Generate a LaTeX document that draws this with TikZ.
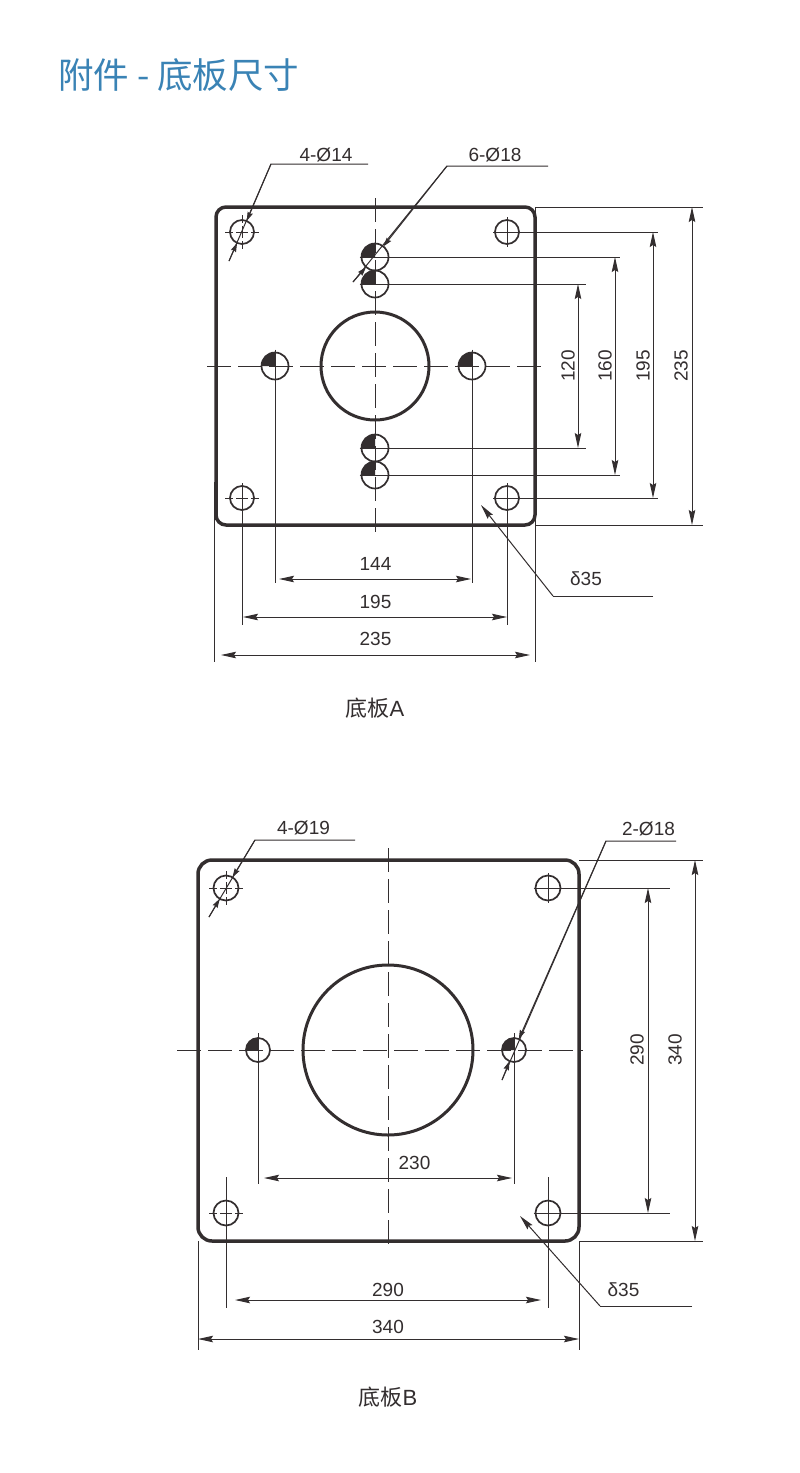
\documentclass[tikz,border=0pt]{standalone}
\usepackage{fontspec}
\setmainfont{Liberation Sans}
\newfontfamily\cjk{Noto Sans CJK SC}
\usetikzlibrary{arrows.meta}
\definecolor{ink}{HTML}{332E2F}
\definecolor{titleblue}{HTML}{3A83B5}
\def \MinSize {27}
\tikzstyle{plate}=[draw=ink, rectangle, line width=3.5pt, inner sep=0pt, outer sep=0pt]
\tikzstyle{hole}=[draw=ink, circle, line width=1.7pt, inner sep=0pt, outer sep=0pt, minimum size=\MinSize]
\tikzstyle{thin line}=[draw=ink, line width=1pt]
\tikzstyle{centre line}=[thin line, dash pattern=on 24pt off 7pt]
\tikzstyle{cross line}=[thin line, dash pattern=on 8pt off 3pt on 12pt off 3pt on 8pt off 3pt]
\tikzstyle{dim}=[thin line, {Stealth[length=15pt,width=6.5pt,inset=2pt]}-{Stealth[length=15pt,width=6.5pt,inset=2pt]}]
\tikzstyle{pointer}=[thin line, -{Stealth[length=15pt,width=6.5pt,inset=2pt]}]
\tikzstyle{stub}=[thin line, -{Stealth[length=9pt,width=5.5pt,inset=1pt]}]
\tikzstyle{value}=[text=ink, font=\fontsize{19}{21}\selectfont, inner sep=0pt]
\tikzstyle{caption}=[text=ink, font=\fontsize{22}{24}\cjk, inner sep=0pt]
\begin{document}
\begin{tikzpicture}[x=1pt,y=-1pt]
  \path[use as bounding box, fill=white] (0,0) rectangle (800,1473);
  \node[anchor=west, text=titleblue, inner sep=0pt, font=\fontsize{35.5}{38}\cjk] (title) at (58,75) {附件 - 底板尺寸};

  % plate A
  \node[plate, rounded corners=10pt, minimum width=319, minimum height=318] (pa) at (375.5,366) {};
  \node[hole, minimum size=108, line width=3pt] (ca) at (375,366) {};
  \foreach \n/\x/\y in {1/242/232, 2/507/232, 3/242/498, 4/507/498}{
    \node[hole, minimum size=24] (a\n) at (\x,\y) {};
  }
  \foreach \n/\x/\y in {5/375/257, 6/375/284, 7/375/448, 8/375/475, 9/275/366, 10/472/366}{
    \node[hole] (a\n) at (\x,\y) {};
    \fill[ink] (a\n.center) -- (a\n.west) arc[start angle=180, end angle=90, radius=13.5pt] -- cycle;
  }
  \draw[centre line] (207,366) coordinate (al) -- (543,366) coordinate (ar);
  \draw[centre line] (375,198) coordinate (at) -- (375,535) coordinate (ab);
  \draw[cross line] (225,232) -- (259,232);
  \draw[cross line] (242,215) -- (242,249);
  \draw[cross line] (225,498) -- (259,498);
  \draw[thin line] (507,217) -- (507,247);

  % plate A, right dimensions
  \foreach \n/\x/\y in {e1/703/207, e2/658/232, e3/620/257, e4/586/284, e5/586/448, e6/620/475, e7/658/498, e8/703/525,
                        d1/578/0, d2/615/0, d3/653/0, d4/692/0}{
    \coordinate (\n) at (\x,\y);
  }
  \draw[thin line] (pa.north east) -- (e1);
  \draw[thin line] ([xshift=-2pt]a2.west) -- (e2);
  \draw[thin line] ([xshift=-2pt]a5.west) -- (e3);
  \draw[thin line] ([xshift=-2pt]a6.west) -- (e4);
  \draw[thin line] ([xshift=-2pt]a7.west) -- (e5);
  \draw[thin line] ([xshift=-2pt]a8.west) -- (e6);
  \draw[thin line] ([xshift=-2pt]a4.west) -- (e7);
  \draw[thin line] (pa.south east) -- (e8);
  \draw[dim] (e4 -| d1) -- (e5 -| d1);
  \draw[dim] (e3 -| d2) -- (e6 -| d2);
  \draw[dim] (e2 -| d3) -- (e7 -| d3);
  \draw[dim] (e1 -| d4) -- (e8 -| d4);
  \node[value, rotate=90] (va1) at (568,366) {120};
  \node[value, rotate=90] (va2) at (605,366) {160};
  \node[value, rotate=90] (va3) at (643,366) {195};
  \node[value, rotate=90] (va4) at (681,366) {235};

  % plate A, bottom dimensions
  \foreach \n/\x/\y in {f1/275/583, f2/472/583, f3/242/625, f4/507/625, f5/214/662, f6/535/662, g1/214/482, g2/535/207}{
    \coordinate (\n) at (\x,\y);
  }
  \draw[thin line] ([yshift=3pt]a9.north) -- (f1);
  \draw[thin line] ([yshift=3pt]a10.north) -- (f2);
  \draw[thin line] ([yshift=3pt]a3.north) -- (f3);
  \draw[thin line] ([yshift=3pt]a4.north) -- (f4);
  \draw[thin line] (g1) -- (f5);
  \draw[thin line] (g2) -- (f6);
  \draw[dim] (279,579) -- (471,579);
  \node[value] (vb1) at (375.5,564) {144};
  \draw[dim] (243,617) -- (507,617);
  \node[value] (vb2) at (375.5,602) {195};
  \draw[dim] (221,655) -- (530,655);
  \node[value] (vb3) at (375.5,639) {235};

  % plate A, leaders
  \coordinate (k1) at (368,164);
  \coordinate (k2) at (271,164);
  \coordinate (k3) at (229,261);
  \draw[thin line] (k1) -- (k2) -- (k3);
  \draw[stub] (k2) -- (a1);
  \draw[stub] (k3) -- (a1);
  \node[value] (la1) at (326,155) {4-Ø14};
  \coordinate (k4) at (548,166);
  \coordinate (k5) at (447,166);
  \coordinate (k6) at (353,282);
  \draw[thin line] (k4) -- (k5) -- (k6);
  \draw[stub] (k5) -- (a5);
  \draw[stub] (k6) -- (a5);
  \node[value] (la2) at (495,155) {6-Ø18};
  \coordinate (k7) at (653,596);
  \coordinate (k8) at (553,596);
  \coordinate (k9) at (481,505);
  \draw[thin line] (k7) -- (k8);
  \draw[pointer] (k8) -- (k9);
  \node[value] (la3) at (586,579) {δ35};
  \node[caption] (capa) at (375,708) {底板{\fontspec{Liberation Sans}A}};

  % plate B
  \node[plate, rounded corners=14pt, minimum width=381, minimum height=381] (pb) at (388.5,1050.5) {};
  \node[hole, minimum size=170, line width=3pt] (cb) at (388,1050) {};
  \foreach \n/\x/\y in {1/226/888, 2/548/888, 3/226/1213, 4/548/1213}{
    \node[hole, minimum size=25] (b\n) at (\x,\y) {};
  }
  \foreach \n/\x/\y in {5/258/1050, 6/514/1050}{
    \node[hole, minimum size=24] (b\n) at (\x,\y) {};
    \fill[ink] (b\n.center) -- (b\n.west) arc[start angle=180, end angle=90, radius=12pt] -- cycle;
  }
  \draw[centre line] (177,1050) coordinate (bl) -- (583,1050) coordinate (br);
  \draw[centre line] (388,848) coordinate (bt) -- (388,1248) coordinate (bb);
  \draw[cross line] (209,888) -- (243,888);
  \draw[cross line] (226,871) -- (226,905);
  \draw[cross line] (209,1213) -- (243,1213);
  \draw[thin line] (548,873) -- (548,903);

  % plate B, right dimensions
  \foreach \n/\x/\y in {p1/703/860, p2/670/888, p3/670/1213, p4/703/1241, q1/648/0, q2/695/0}{
    \coordinate (\n) at (\x,\y);
  }
  \draw[thin line] (pb.north east) -- (p1);
  \draw[thin line] ([xshift=-2pt]b2.west) -- (p2);
  \draw[thin line] ([xshift=-2pt]b4.west) -- (p3);
  \draw[thin line] (pb.south east) -- (p4);
  \draw[dim] (p2 -| q1) -- (p3 -| q1);
  \draw[dim] (p1 -| q2) -- (p4 -| q2);
  \node[value, rotate=90] (vc1) at (637,1050) {290};
  \node[value, rotate=90] (vc2) at (675,1050) {340};

  % plate B, bottom dimensions
  \foreach \n/\x/\y in {r1/258/1184, r2/514/1184, r3/226/1308, r4/548/1308, r5/198/1350, r6/579/1350, s1/226/1177, s2/548/1177}{
    \coordinate (\n) at (\x,\y);
  }
  \draw[thin line] ([yshift=5pt]b5.north) -- (r1);
  \draw[thin line] ([yshift=5pt]b6.north) -- (r2);
  \draw[thin line] (s1) -- (r3);
  \draw[thin line] (s2) -- (r4);
  \draw[thin line] (pb.south west) -- (r5);
  \draw[thin line] (pb.south east) -- (r6);
  \draw[dim] (264,1178) -- (512,1178);
  \node[value] (vd1) at (414.5,1163) {230};
  \draw[dim] (235,1300) -- (541,1300);
  \node[value] (vd2) at (388,1290) {290};
  \draw[dim] (198,1339) -- (579,1339);
  \node[value] (vd3) at (388,1327) {340};

  % plate B, leaders
  \coordinate (m1) at (355,840);
  \coordinate (m2) at (255,840);
  \coordinate (m3) at (209,917);
  \draw[thin line] (m1) -- (m2) -- (m3);
  \draw[stub] (m2) -- (b1);
  \draw[stub] (m3) -- (b1);
  \node[value] (lb1) at (303.5,828) {4-Ø19};
  \coordinate (m4) at (676,841);
  \coordinate (m5) at (606,841);
  \coordinate (m6) at (502,1080);
  \draw[thin line] (m4) -- (m5) -- (m6);
  \draw[stub] (m5) -- (b6);
  \draw[stub] (m6) -- (b6);
  \node[value] (lb2) at (648.5,829) {2-Ø18};
  \coordinate (m7) at (692,1306);
  \coordinate (m8) at (600,1306);
  \coordinate (m9) at (520,1216);
  \draw[thin line] (m7) -- (m8);
  \draw[pointer] (m8) -- (m9);
  \node[value] (lb3) at (623.5,1290) {δ35};
  \node[caption] (capb) at (388,1397) {底板{\fontspec{Liberation Sans}B}};
\end{tikzpicture}
\end{document}
